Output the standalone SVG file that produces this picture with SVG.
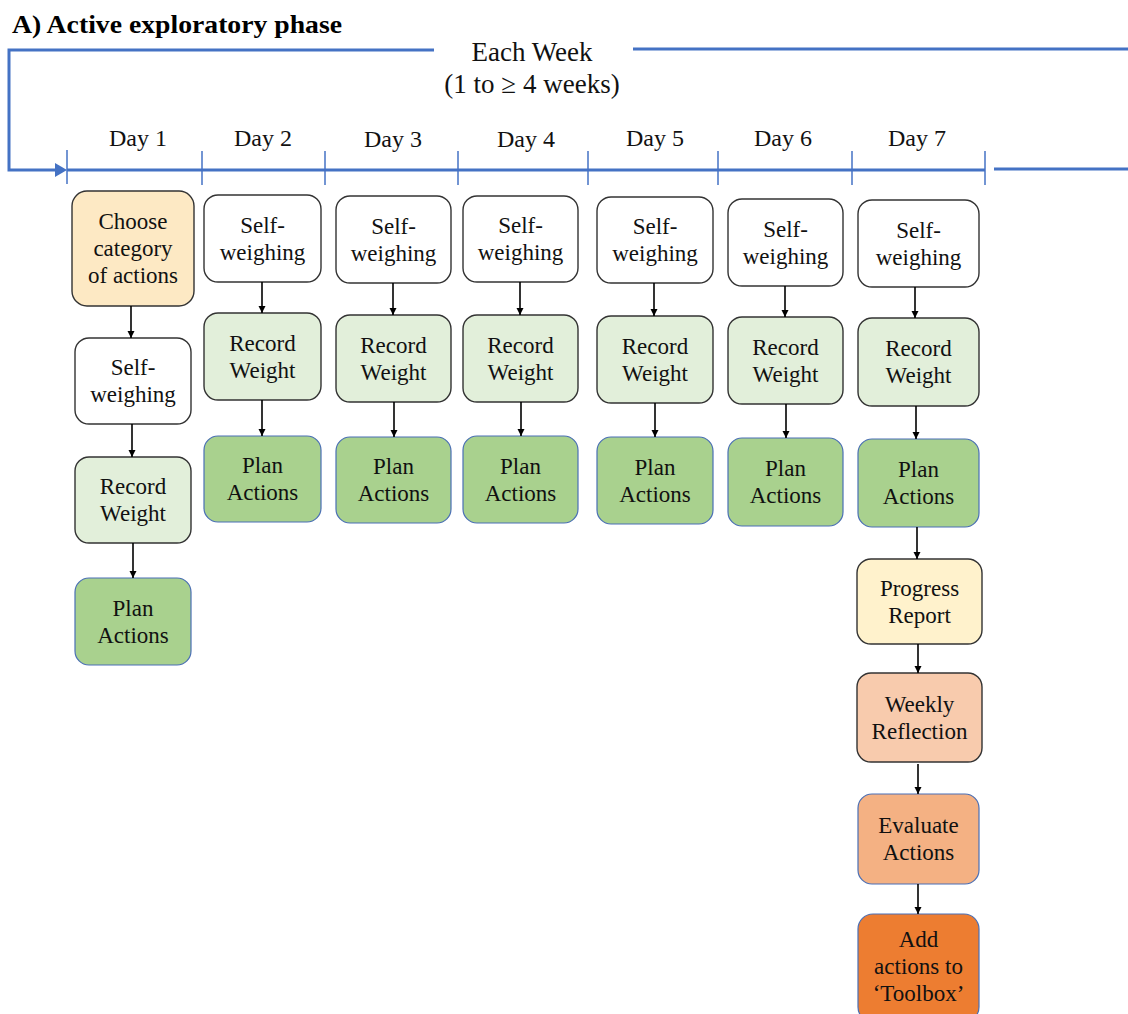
<svg xmlns="http://www.w3.org/2000/svg" width="1128" height="1014" viewBox="0 0 1128 1014">
  <defs>
    <marker id="arr" markerUnits="userSpaceOnUse" markerWidth="8" markerHeight="8" refX="7" refY="3.5" orient="auto">
      <path d="M0,0 L7,3.5 L0,7 z" fill="#000"/>
    </marker>
    <style>
      .t { font-family: "Liberation Serif", "Times New Roman", serif; font-size: 23px; fill: #111; text-anchor: middle; }
      .day { font-family: "Liberation Serif", "Times New Roman", serif; font-size: 24px; fill: #111; text-anchor: middle; }
      .hdr { font-family: "Liberation Serif", "Times New Roman", serif; font-size: 27px; fill: #111; text-anchor: middle; }
      .title { font-family: "Liberation Serif", "Times New Roman", serif; font-size: 25px; font-weight: bold; fill: #000; }
      .box { stroke: #333; stroke-width: 1.4; }
      .bbox { stroke: #4a6fb5; stroke-width: 1.2; }
      .w { fill: #ffffff; }
      .rec { fill: #e2efda; }
      .plan { fill: #a9d18e; }
      .choose { fill: #fde9c4; }
      .prog { fill: #fff2cc; }
      .refl { fill: #f8cbad; }
      .eval { fill: #f4b183; }
      .add { fill: #ed7d31; }
      .blue { stroke: #4472c4; fill: none; stroke-width: 3; }
      .tick { stroke: #4472c4; stroke-width: 1.5; }
      .ln { stroke: #000; stroke-width: 1.6; fill: none; marker-end: url(#arr); }
    </style>
  </defs>

  <rect width="1128" height="1014" fill="#fff"/>

  <text class="title" x="12" y="33" textLength="330" lengthAdjust="spacingAndGlyphs">A) Active exploratory phase</text>

  <!-- weekly loop and day timeline -->
  <g id="timeline">
    <polyline class="blue" points="434,50 9,50 9,170 58,170"/>
    <polygon points="55,163 67,170 55,177" fill="#4472c4"/>
    <line class="blue" x1="633" y1="49" x2="1128" y2="49"/>
    <line class="blue" x1="67" y1="170" x2="985" y2="170"/>
    <line class="blue" x1="994" y1="169" x2="1128" y2="169"/>
    <g class="tick">
      <line x1="67" y1="150" x2="67" y2="184"/>
      <line x1="202" y1="151" x2="202" y2="185"/>
      <line x1="325" y1="151" x2="325" y2="185"/>
      <line x1="458" y1="151" x2="458" y2="185"/>
      <line x1="588" y1="151" x2="588" y2="185"/>
      <line x1="718" y1="151" x2="718" y2="185"/>
      <line x1="852" y1="151" x2="852" y2="185"/>
      <line x1="985" y1="151" x2="985" y2="185"/>
    </g>
    <text class="hdr" x="532" y="61">Each Week</text>
    <text class="hdr" x="532" y="93">(1 to ≥ 4 weeks)</text>
    <text class="day" x="138" y="146">Day 1</text>
    <text class="day" x="263" y="146">Day 2</text>
    <text class="day" x="393" y="147">Day 3</text>
    <text class="day" x="526" y="147">Day 4</text>
    <text class="day" x="655" y="146">Day 5</text>
    <text class="day" x="783" y="146">Day 6</text>
    <text class="day" x="917" y="146">Day 7</text>
  </g>

  <!-- Day 1 -->
  <g id="d1-choose"><rect class="box choose" x="72" y="191" width="122" height="115" rx="15"/>
    <text class="t" x="133" y="229">Choose</text><text class="t" x="133" y="256">category</text><text class="t" x="133" y="283">of actions</text></g>
  <g id="d1-self"><rect class="box w" x="75" y="338" width="116" height="86" rx="14"/>
    <text class="t" x="133" y="375">Self-</text><text class="t" x="133" y="402">weighing</text></g>
  <g id="d1-record"><rect class="box rec" x="75" y="457" width="116" height="86" rx="14"/>
    <text class="t" x="133" y="494">Record</text><text class="t" x="133" y="521">Weight</text></g>
  <g id="d1-plan"><rect class="bbox plan" x="75" y="578" width="116" height="87" rx="14"/>
    <text class="t" x="133" y="615.5">Plan</text><text class="t" x="133" y="642.5">Actions</text></g>

  <!-- Day 2 -->
  <g id="d2-self"><rect class="box w" x="204" y="195" width="117" height="87" rx="14"/>
    <text class="t" x="262.5" y="232.5">Self-</text><text class="t" x="262.5" y="259.5">weighing</text></g>
  <g id="d2-record"><rect class="box rec" x="204" y="313" width="117" height="87" rx="14"/>
    <text class="t" x="262.5" y="350.5">Record</text><text class="t" x="262.5" y="377.5">Weight</text></g>
  <g id="d2-plan"><rect class="bbox plan" x="204" y="436" width="117" height="86" rx="14"/>
    <text class="t" x="262.5" y="473">Plan</text><text class="t" x="262.5" y="500">Actions</text></g>

  <!-- Day 3 -->
  <g id="d3-self"><rect class="box w" x="336" y="196" width="115" height="87" rx="14"/>
    <text class="t" x="393.5" y="233.5">Self-</text><text class="t" x="393.5" y="260.5">weighing</text></g>
  <g id="d3-record"><rect class="box rec" x="336" y="315" width="115" height="87" rx="14"/>
    <text class="t" x="393.5" y="352.5">Record</text><text class="t" x="393.5" y="379.5">Weight</text></g>
  <g id="d3-plan"><rect class="bbox plan" x="336" y="437" width="115" height="86" rx="14"/>
    <text class="t" x="393.5" y="474">Plan</text><text class="t" x="393.5" y="501">Actions</text></g>

  <!-- Day 4 -->
  <g id="d4-self"><rect class="box w" x="463" y="196" width="115" height="86" rx="14"/>
    <text class="t" x="520.5" y="233">Self-</text><text class="t" x="520.5" y="260">weighing</text></g>
  <g id="d4-record"><rect class="box rec" x="463" y="315" width="115" height="87" rx="14"/>
    <text class="t" x="520.5" y="352.5">Record</text><text class="t" x="520.5" y="379.5">Weight</text></g>
  <g id="d4-plan"><rect class="bbox plan" x="463" y="436" width="115" height="87" rx="14"/>
    <text class="t" x="520.5" y="473.5">Plan</text><text class="t" x="520.5" y="500.5">Actions</text></g>

  <!-- Day 5 -->
  <g id="d5-self"><rect class="box w" x="597" y="197" width="116" height="86" rx="14"/>
    <text class="t" x="655" y="234">Self-</text><text class="t" x="655" y="261">weighing</text></g>
  <g id="d5-record"><rect class="box rec" x="597" y="316" width="116" height="87" rx="14"/>
    <text class="t" x="655" y="353.5">Record</text><text class="t" x="655" y="380.5">Weight</text></g>
  <g id="d5-plan"><rect class="bbox plan" x="597" y="437" width="116" height="87" rx="14"/>
    <text class="t" x="655" y="474.5">Plan</text><text class="t" x="655" y="501.5">Actions</text></g>

  <!-- Day 6 -->
  <g id="d6-self"><rect class="box w" x="728" y="199" width="115" height="87" rx="14"/>
    <text class="t" x="785.5" y="236.5">Self-</text><text class="t" x="785.5" y="263.5">weighing</text></g>
  <g id="d6-record"><rect class="box rec" x="728" y="317" width="115" height="87" rx="14"/>
    <text class="t" x="785.5" y="354.5">Record</text><text class="t" x="785.5" y="381.5">Weight</text></g>
  <g id="d6-plan"><rect class="bbox plan" x="728" y="438" width="115" height="88" rx="14"/>
    <text class="t" x="785.5" y="476">Plan</text><text class="t" x="785.5" y="503">Actions</text></g>

  <!-- Day 7 -->
  <g id="d7-self"><rect class="box w" x="858" y="200" width="121" height="87" rx="14"/>
    <text class="t" x="918.5" y="237.5">Self-</text><text class="t" x="918.5" y="264.5">weighing</text></g>
  <g id="d7-record"><rect class="box rec" x="858" y="318" width="121" height="88" rx="14"/>
    <text class="t" x="918.5" y="356">Record</text><text class="t" x="918.5" y="383">Weight</text></g>
  <g id="d7-plan"><rect class="bbox plan" x="858" y="439" width="121" height="88" rx="14"/>
    <text class="t" x="918.5" y="477">Plan</text><text class="t" x="918.5" y="504">Actions</text></g>
  <g id="d7-progress"><rect class="box prog" x="857" y="559" width="125" height="85" rx="14"/>
    <text class="t" x="919.5" y="595.5">Progress</text><text class="t" x="919.5" y="622.5">Report</text></g>
  <g id="d7-reflection"><rect class="box refl" x="857" y="673" width="125" height="89" rx="14"/>
    <text class="t" x="919.5" y="711.5">Weekly</text><text class="t" x="919.5" y="738.5">Reflection</text></g>
  <g id="d7-evaluate"><rect class="bbox eval" x="858" y="794" width="121" height="90" rx="14"/>
    <text class="t" x="918.5" y="833">Evaluate</text><text class="t" x="918.5" y="860">Actions</text></g>
  <g id="d7-toolbox"><rect class="bbox add" x="858" y="914" width="121" height="108" rx="15"/>
    <text class="t" x="918.5" y="947">Add</text><text class="t" x="918.5" y="974">actions to</text><text class="t" x="918.5" y="1001">‘Toolbox’</text></g>

  <!-- connectors -->
  <g id="connectors">
    <line class="ln" x1="131" y1="306" x2="131" y2="338"/>
    <line class="ln" x1="132" y1="424" x2="132" y2="457"/>
    <line class="ln" x1="133" y1="543" x2="133" y2="578"/>
    <line class="ln" x1="262" y1="282" x2="262" y2="313"/>
    <line class="ln" x1="262" y1="400" x2="262" y2="436"/>
    <line class="ln" x1="393" y1="283" x2="393" y2="315"/>
    <line class="ln" x1="394" y1="402" x2="394" y2="437"/>
    <line class="ln" x1="520" y1="282" x2="520" y2="315"/>
    <line class="ln" x1="521" y1="402" x2="521" y2="436"/>
    <line class="ln" x1="654" y1="283" x2="654" y2="316"/>
    <line class="ln" x1="655" y1="403" x2="655" y2="437"/>
    <line class="ln" x1="785" y1="286" x2="785" y2="317"/>
    <line class="ln" x1="786" y1="404" x2="786" y2="438"/>
    <line class="ln" x1="915" y1="287" x2="915" y2="318"/>
    <line class="ln" x1="916" y1="406" x2="916" y2="439"/>
    <line class="ln" x1="917" y1="527" x2="917" y2="559"/>
    <line class="ln" x1="918" y1="644" x2="918" y2="673"/>
    <line class="ln" x1="918" y1="764" x2="918" y2="794"/>
    <line class="ln" x1="918" y1="884" x2="918" y2="914"/>
  </g>
</svg>
